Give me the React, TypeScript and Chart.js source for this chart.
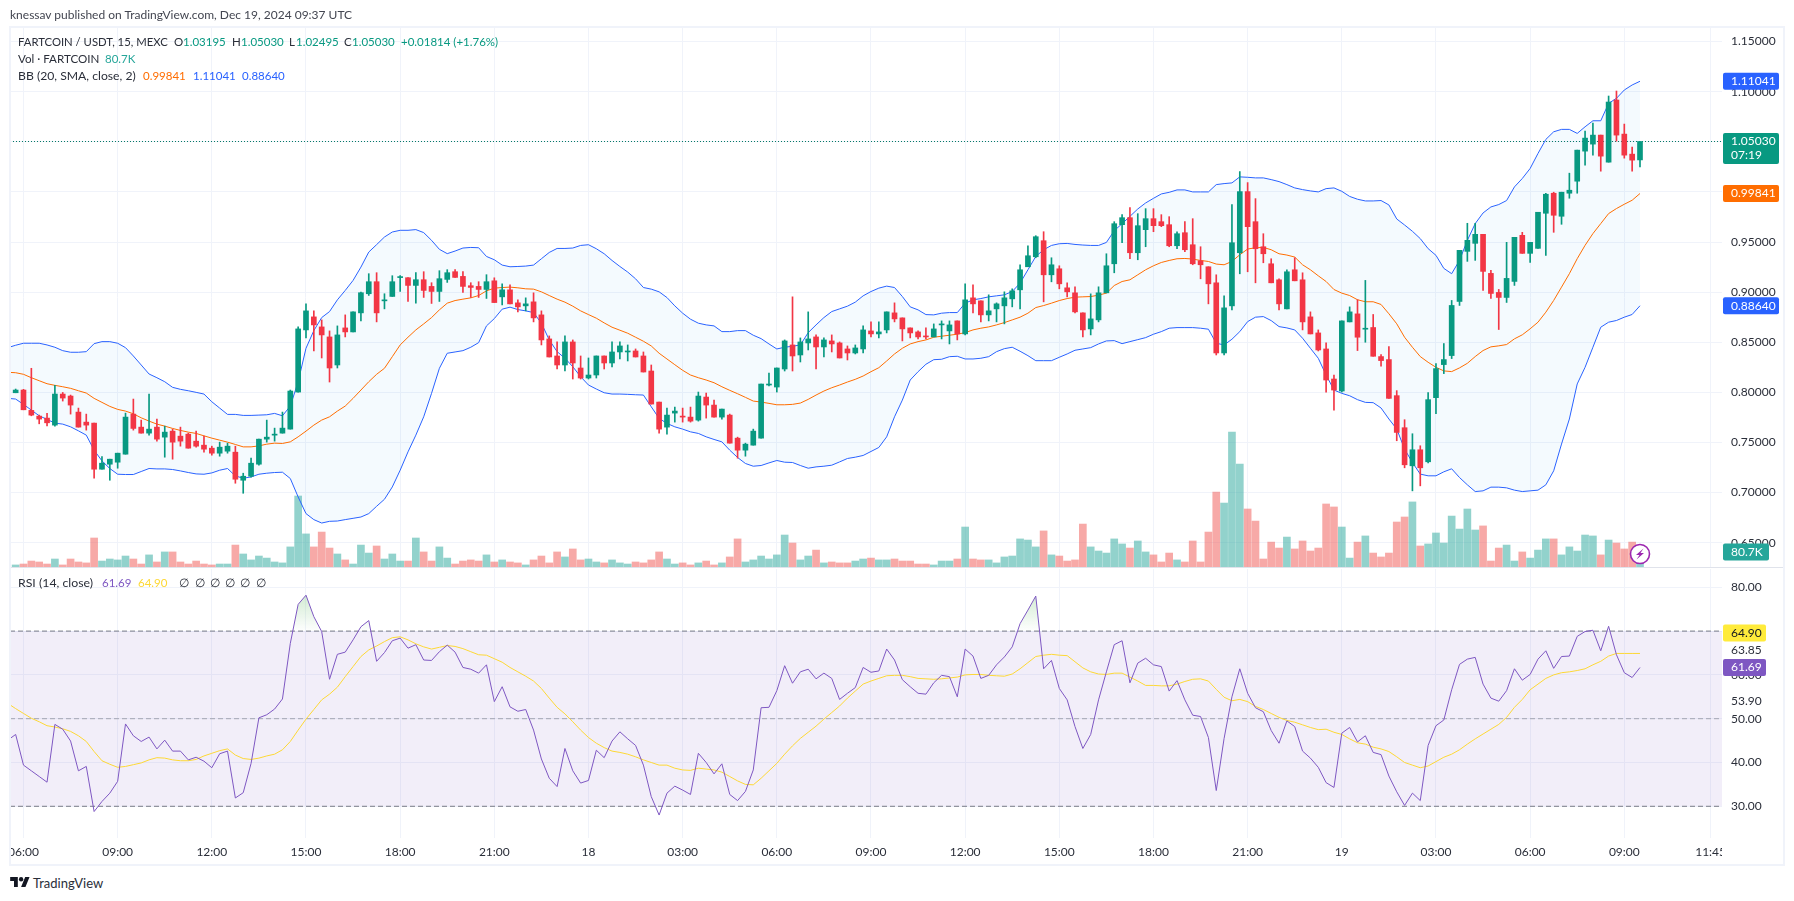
import React, { useEffect, useRef } from "react";
import { Chart, registerables } from "chart.js";

Chart.register(...registerables);

// Bars are numbered from the 06:00 bar of Dec 17 (= 0), one bar per 15 minutes.
const candleStart = -1;
const lineStart = -2;

const opens = [.7996,.8023,.7820,.7763,.7743,.7673,.7983,.7963,.7803,.7703,.7693,.7233,.7283,.7303,.7383,.7783,.7653,.7593,.7653,.7553,.7613,.7563,.7583,.7513,.7473,.7443,.7393,.7413,.7403,.7123,.7163,.7283,.7533,.7573,.7593,.7633,.8003,.8623,.8753,.8653,.8553,.8273,.8643,.8603,.8793,.8984,.9104,.8913,.8957,.9145,.9144,.9067,.9124,.9057,.9007,.9127,.9204,.9157,.9064,.9057,.9027,.9113,.8953,.9023,.8893,.8863,.8903,.8773,.8533,.8363,.8273,.8503,.8243,.8143,.8173,.8363,.8293,.8403,.8403,.8413,.8363,.8213,.7903,.7653,.7793,.7763,.7753,.7723,.7953,.7873,.7753,.7773,.7543,.7423,.7473,.7543,.8073,.8053,.8233,.8473,.8373,.8493,.8553,.8453,.8513,.8493,.8433,.8393,.8433,.8613,.8583,.8623,.8793,.8743,.8643,.8603,.8563,.8553,.8673,.8613,.8713,.8583,.8943,.8913,.8773,.8833,.8863,.8933,.9023,.9253,.9353,.9513,.9173,.9233,.9043,.8993,.8793,.8633,.8723,.8993,.9283,.9673,.9743,.9393,.9623,.9733,.9703,.9673,.9463,.9593,.9473,.9313,.9253,.9093,.8393,.8863,.9393,1.0003,.9703,.9453,.9283,.9123,.8833,.9223,.9123,.8753,.8593,.8433,.8133,.8013,.8703,.8783,.8630,.8647,.8357,.8327,.7967,.7647,.7267,.7427,.7307,.7947,.8277,.8367,.8907,.9407,.9487,.9577,.9187,.8997,.8947,.9107,.9567,.9387,.9437,.9787,.9987,.9757,.9987,1.0107,1.0407,1.0477,1.0567,1.0297,1.0917,1.0577,1.0377,1.03195];
const closes = [.8023,.7826,.7773,.7733,.7696,.7983,.7943,.7873,.7653,.7673,.7233,.7293,.7333,.7393,.7753,.7640,.7593,.7633,.7533,.7603,.7503,.7513,.7443,.7463,.7433,.7393,.7453,.7463,.7133,.7163,.7293,.7533,.7553,.7583,.7643,.8013,.8633,.8813,.8673,.8573,.8243,.8573,.8603,.8803,.8994,.9104,.8793,.8923,.9104,.9150,.9067,.9124,.9017,.9007,.9134,.9194,.9147,.9057,.9047,.9027,.9104,.8896,.9023,.8883,.8853,.8883,.8743,.8523,.8353,.8273,.8503,.8293,.8143,.8173,.8363,.8293,.8403,.8463,.8413,.8353,.8203,.7883,.7633,.7773,.7813,.7753,.7713,.7963,.7873,.7753,.7833,.7493,.7423,.7483,.7613,.8083,.8083,.8243,.8513,.8363,.8503,.8533,.8453,.8523,.8483,.8343,.8393,.8443,.8623,.8583,.8603,.8803,.8733,.8633,.8593,.8553,.8553,.8633,.8683,.8673,.8583,.8923,.8883,.8773,.8813,.8883,.8943,.9013,.9223,.9363,.9553,.9173,.9273,.9083,.9003,.8803,.8623,.8733,.8993,.9263,.9683,.9743,.9393,.9663,.9733,.9663,.9663,.9463,.9583,.9423,.9283,.9273,.9083,.8393,.8843,.9493,1.0003,.9653,.9433,.9383,.9093,.8883,.9203,.9113,.8703,.8583,.8423,.8123,.8023,.8713,.8803,.8550,.8637,.8360,.8317,.7940,.7600,.7277,.7427,.7247,.7927,.8237,.8327,.8867,.9417,.9517,.9577,.9207,.8987,.8947,.9137,.9547,.9387,.9497,.9797,.9977,.9767,.9997,1.0017,1.0417,1.0537,1.0567,1.0357,1.0897,1.0567,1.0367,1.0317,1.0503];
const highs = [.8033,.8030,.8240,.7773,.7790,.8070,.7999,.7973,.7843,.7783,.7693,.7360,.7333,.7393,.7793,.7933,.7723,.7983,.7733,.7663,.7633,.7653,.7593,.7613,.7563,.7463,.7503,.7493,.7463,.7193,.7343,.7533,.7723,.7643,.7803,.8023,.8653,.8883,.8813,.8723,.8613,.8663,.8773,.8803,.9000,.9184,.9194,.8984,.9164,.9164,.9144,.9194,.9204,.9094,.9214,.9224,.9224,.9204,.9094,.9104,.9174,.9143,.9083,.9073,.8923,.8943,.8993,.8813,.8563,.8503,.8563,.8523,.8363,.8343,.8363,.8363,.8503,.8503,.8473,.8433,.8403,.8273,.7903,.7843,.7853,.7843,.7853,.8003,.7993,.7923,.7833,.7783,.7553,.7493,.7633,.8083,.8193,.8243,.8523,.8953,.8543,.8803,.8573,.8543,.8573,.8503,.8463,.8473,.8663,.8703,.8703,.8803,.8893,.8743,.8643,.8613,.8643,.8683,.8713,.8713,.8713,.9083,.9073,.8913,.8973,.8893,.9003,.9033,.9273,.9463,.9563,.9603,.9343,.9263,.9093,.9053,.8793,.8983,.9053,.9383,.9703,.9773,.9843,.9783,.9833,.9833,.9773,.9753,.9603,.9703,.9733,.9453,.9253,.9173,.8963,.9873,1.0203,1.0093,.9933,.9583,.9333,.9133,.9223,.9343,.9193,.8803,.8623,.8493,.8173,.8713,.8853,.8924,.9117,.8777,.8377,.8457,.8017,.7727,.7587,.7467,.7997,.8287,.8487,.8917,.9417,.9687,.9687,.9577,.9217,.9027,.9497,.9547,.9597,.9497,.9797,.9987,.9997,.9997,1.0187,1.0417,1.0607,1.0687,1.0567,1.0957,1.1007,1.0677,1.0447,1.0503];
const lows = [.7996,.7826,.7766,.7686,.7666,.7663,.7913,.7783,.7653,.7623,.7143,.7233,.7123,.7243,.7383,.7623,.7593,.7573,.7513,.7353,.7333,.7463,.7443,.7453,.7403,.7373,.7363,.7393,.7093,.6993,.7153,.7273,.7503,.7513,.7593,.7633,.8003,.8543,.8413,.8343,.8103,.8243,.8553,.8603,.8713,.8967,.8703,.8833,.8957,.9007,.8908,.8890,.8947,.8887,.8907,.9097,.9147,.8997,.8947,.8947,.8937,.8896,.8873,.8883,.8803,.8813,.8703,.8473,.8353,.8233,.8213,.8133,.8133,.8133,.8143,.8233,.8253,.8333,.8313,.8353,.8203,.7883,.7593,.7583,.7703,.7703,.7703,.7713,.7743,.7753,.7733,.7493,.7343,.7363,.7473,.7543,.8063,.8003,.8213,.8213,.8303,.8423,.8233,.8353,.8403,.8343,.8323,.8383,.8393,.8553,.8543,.8593,.8703,.8513,.8543,.8533,.8533,.8553,.8533,.8483,.8523,.8573,.8793,.8703,.8713,.8703,.8683,.8853,.8833,.9253,.9343,.8903,.9103,.9033,.8953,.8793,.8553,.8573,.8703,.8993,.9193,.9493,.9333,.9323,.9453,.9603,.9653,.9453,.9433,.9403,.9273,.9133,.8883,.8373,.8373,.8823,.9183,.9203,.9093,.9293,.9093,.8823,.8833,.9113,.8623,.8583,.8413,.8003,.7823,.8003,.8703,.8417,.8500,.8360,.8260,.7940,.7517,.7247,.7017,.7067,.7297,.7787,.8187,.8337,.8867,.9307,.9317,.9017,.8937,.8627,.8897,.9067,.9387,.9297,.9437,.9367,.9597,.9677,.9937,.9987,1.0267,1.0367,1.0207,1.0297,1.0507,1.0337,1.0207,1.02495];
const volumesK = [11,16,32,27,16,43,11,43,27,22,156,32,43,38,59,43,16,65,27,81,81,27,16,32,16,11,16,16,118,70,38,59,48,27,22,108,382,178,108,188,102,70,38,16,118,75,113,43,70,32,32,156,81,32,108,48,16,32,38,32,65,27,38,27,22,11,38,59,22,81,54,97,38,43,27,22,38,22,16,27,22,38,81,43,16,22,11,22,32,11,22,54,151,27,38,59,43,65,172,129,38,59,91,22,27,22,22,32,43,48,38,38,43,32,32,16,16,11,32,32,43,215,43,38,38,22,54,59,151,145,108,194,65,59,32,38,231,108,86,75,151,124,102,140,81,65,27,75,38,27,140,27,188,403,344,726,554,312,247,43,134,102,161,97,140,86,102,339,323,215,48,134,167,75,54,75,242,269,350,113,124,183,129,274,204,312,199,221,32,102,118,32,81,48,91,151,151,65,108,86,172,167,65,145,129,97,134,80.7];

const bbUpper = [.8446,.8470,.8490,.8490,.8490,.8473,.8450,.8416,.8400,.8400,.8406,.8486,.8506,.8506,.8490,.8446,.8363,.8273,.8183,.8146,.8106,.8050,.8030,.8016,.8000,.7983,.7906,.7843,.7780,.7780,.7770,.7770,.7773,.7776,.7790,.7766,.7863,.8106,.8440,.8616,.8746,.8806,.8923,.9017,.9117,.9250,.9400,.9474,.9550,.9600,.9617,.9617,.9624,.9594,.9517,.9427,.9384,.9410,.9440,.9446,.9443,.9356,.9323,.9270,.9253,.9256,.9260,.9270,.9333,.9396,.9436,.9436,.9440,.9466,.9473,.9433,.9383,.9316,.9256,.9200,.9133,.9046,.9030,.9003,.8946,.8863,.8790,.8730,.8690,.8673,.8663,.8606,.8606,.8616,.8616,.8570,.8536,.8483,.8433,.8450,.8460,.8473,.8596,.8673,.8746,.8806,.8833,.8860,.8900,.8963,.9006,.9040,.9060,.9046,.8956,.8853,.8823,.8776,.8773,.8790,.8796,.8796,.8890,.8923,.8936,.8953,.8963,.8973,.9006,.9090,.9223,.9356,.9423,.9466,.9483,.9486,.9476,.9470,.9466,.9466,.9496,.9613,.9683,.9756,.9830,.9890,.9936,.9980,.9996,1.0020,1.0020,1.0000,1.0000,1.0000,1.0073,1.0083,1.0090,1.0150,1.0146,1.0140,1.0140,1.0123,1.0103,1.0073,1.0040,1.0023,1.0010,1.0000,1.0033,1.0040,1.0006,.9955,.9927,.9910,.9910,.9914,.9870,.9730,.9670,.9607,.9534,.9434,.9367,.9237,.9184,.9317,.9517,.9684,.9790,.9850,.9874,.9914,1.0050,1.0134,1.0234,1.0384,1.0524,1.0600,1.0624,1.0624,1.0584,1.0650,1.0710,1.0710,1.0884,1.0934,1.1017,1.1067,1.11041];
const bbMiddle = [.8200,.8196,.8180,.8146,.8116,.8086,.8070,.8056,.8040,.8016,.7993,.7940,.7900,.7860,.7830,.7813,.7786,.7746,.7713,.7683,.7663,.7640,.7620,.7603,.7590,.7566,.7543,.7523,.7503,.7480,.7456,.7456,.7466,.7483,.7493,.7490,.7506,.7556,.7613,.7673,.7723,.7756,.7813,.7863,.7940,.8023,.8106,.8180,.8240,.8356,.8473,.8550,.8623,.8683,.8746,.8823,.8890,.8916,.8930,.8943,.8966,.9013,.9040,.9046,.9050,.9043,.9033,.9030,.9003,.8966,.8930,.8900,.8860,.8813,.8776,.8740,.8693,.8650,.8620,.8590,.8550,.8510,.8463,.8390,.8333,.8276,.8220,.8173,.8146,.8123,.8096,.8056,.8020,.7986,.7950,.7913,.7903,.7890,.7876,.7876,.7880,.7893,.7930,.7973,.8013,.8046,.8073,.8103,.8130,.8163,.8206,.8246,.8313,.8383,.8440,.8483,.8506,.8523,.8550,.8560,.8570,.8580,.8596,.8623,.8640,.8653,.8673,.8696,.8723,.8750,.8790,.8846,.8866,.8890,.8916,.8936,.8950,.8953,.8956,.8970,.8990,.9066,.9106,.9123,.9173,.9223,.9263,.9296,.9316,.9333,.9336,.9330,.9316,.9306,.9280,.9273,.9306,.9373,.9430,.9443,.9446,.9423,.9383,.9370,.9350,.9273,.9223,.9163,.9106,.9026,.8990,.8966,.8924,.8904,.8904,.8877,.8784,.8684,.8550,.8450,.8357,.8300,.8250,.8214,.8207,.8244,.8290,.8357,.8417,.8454,.8464,.8477,.8534,.8574,.8634,.8700,.8800,.8917,.9050,.9184,.9334,.9467,.9584,.9684,.9784,.9834,.9877,.9917,.99841];
const bbLower = [.7940,.7933,.7880,.7823,.7766,.7730,.7693,.7683,.7656,.7616,.7573,.7423,.7316,.7240,.7183,.7180,.7180,.7210,.7240,.7236,.7236,.7230,.7216,.7200,.7186,.7183,.7196,.7223,.7240,.7166,.7143,.7156,.7183,.7193,.7200,.7203,.7140,.6956,.6790,.6730,.6696,.6713,.6716,.6730,.6743,.6756,.6790,.6863,.6933,.7056,.7223,.7406,.7573,.7756,.7990,.8240,.8390,.8403,.8416,.8450,.8496,.8663,.8736,.8830,.8850,.8826,.8813,.8796,.8690,.8523,.8406,.8340,.8256,.8156,.8073,.8033,.7996,.7983,.7983,.7980,.7976,.7973,.7856,.7740,.7690,.7656,.7633,.7606,.7590,.7556,.7530,.7506,.7423,.7350,.7290,.7263,.7270,.7296,.7320,.7303,.7300,.7270,.7243,.7256,.7263,.7273,.7306,.7340,.7353,.7370,.7410,.7450,.7556,.7756,.7923,.8123,.8206,.8280,.8326,.8330,.8356,.8360,.8333,.8333,.8340,.8356,.8406,.8436,.8450,.8410,.8366,.8316,.8316,.8316,.8350,.8383,.8420,.8433,.8446,.8483,.8513,.8516,.8486,.8506,.8526,.8546,.8580,.8606,.8640,.8646,.8646,.8646,.8640,.8630,.8490,.8473,.8530,.8606,.8706,.8750,.8756,.8716,.8656,.8643,.8623,.8540,.8440,.8340,.8173,.8023,.7990,.7966,.7927,.7900,.7897,.7844,.7734,.7634,.7434,.7300,.7184,.7167,.7167,.7207,.7237,.7150,.7077,.7010,.7017,.7054,.7054,.7047,.7024,.7010,.7017,.7024,.7077,.7217,.7484,.7734,.8084,.8250,.8450,.8650,.8700,.8717,.8750,.8777,.8864];

const rsiValues = [45.1,46.4,39.4,38.1,36.8,35.5,48.7,47.6,44.9,38.1,39.1,28.8,31.1,33.0,35.7,48.8,46.1,44.8,45.8,43.1,45.1,42.6,42.6,40.6,41.2,40.3,38.8,42.0,42.6,31.9,33.1,39.8,50.2,50.9,52.2,54.5,67.2,76.1,78.2,73.3,69.9,59.0,64.7,65.2,68.0,71.0,72.4,63.1,65.1,67.8,68.4,66.1,66.9,63.4,63.3,65.3,66.8,65.2,61.7,61.3,60.4,62.3,53.9,57.3,52.7,51.7,52.1,47.4,40.8,36.4,34.5,43.2,38.1,35.3,35.9,42.8,41.1,44.9,47.0,45.4,43.9,39.4,32.2,28.0,33.0,34.6,33.7,32.7,42.1,40.0,37.4,39.7,32.7,31.3,33.4,38.3,52.5,52.6,56.4,62.1,58.1,60.7,61.3,59.1,60.4,59.2,54.4,55.8,57.1,61.7,60.6,60.9,65.9,63.4,58.9,57.3,55.8,55.6,58.2,59.9,59.6,55.0,65.9,64.3,59.2,59.9,62.3,64.1,66.4,71.7,74.8,78.0,61.4,63.3,56.9,54.3,48.2,43.2,46.4,54.3,60.7,66.9,67.8,58.2,62.7,63.8,62.3,61.9,56.3,58.7,54.3,50.8,50.5,45.7,33.6,45.5,55.0,61.4,55.8,52.5,51.6,47.3,44.4,49.5,48.2,42.6,41.0,38.9,35.4,34.3,46.7,48.0,44.7,46.1,42.3,41.8,36.9,33.3,30.2,33.0,31.3,43.9,48.4,49.7,56.6,62.4,63.6,64.0,57.9,54.7,54.0,56.4,61.4,58.8,60.1,63.6,65.5,61.5,64.2,64.3,68.8,69.9,70.2,65.5,71.1,64.6,60.5,59.4,61.69];
const rsiMaValues = [53.5,52.3,51.2,50.1,49.3,48.4,48.1,47.7,47.1,46.1,44.8,42.5,40.4,39.6,38.9,39.1,39.5,39.9,40.6,41.1,41.0,40.6,40.4,40.4,40.7,41.5,42.1,42.7,43.1,41.7,40.9,40.7,41.0,41.5,41.9,42.9,44.8,47.4,49.9,52.1,54.3,55.6,57.2,59.6,61.9,64.2,65.7,66.6,67.6,68.5,68.7,68.0,67.1,66.4,65.9,66.3,66.7,66.5,66.0,65.3,64.6,64.5,63.7,62.9,61.7,60.7,59.7,58.6,56.9,54.7,52.6,51.1,49.3,47.4,45.7,44.4,43.4,42.6,42.3,41.9,41.3,40.6,40.0,39.4,39.4,38.7,38.3,38.2,38.7,38.5,38.3,37.8,36.8,35.8,35.0,34.9,36.4,38.1,39.8,41.9,43.8,45.5,46.9,48.3,49.9,51.4,52.9,54.7,56.3,57.9,58.6,59.2,59.8,59.9,59.9,59.6,59.2,59.1,59.0,59.1,59.3,59.5,60.0,60.1,60.1,59.9,59.8,59.7,60.2,61.4,62.8,64.2,64.5,64.7,64.5,64.4,63.0,61.6,60.7,60.2,60.1,60.4,60.4,59.5,58.6,57.6,57.6,57.5,57.5,57.9,58.5,59.0,59.1,58.6,56.7,54.9,54.1,54.4,53.9,52.8,52.1,51.2,50.3,49.6,49.2,48.6,48.0,47.5,47.6,46.9,46.4,45.4,44.5,44.2,43.5,43.1,42.5,41.3,40.0,39.4,38.8,39.2,40.2,41.2,41.9,42.9,44.2,45.4,46.5,47.6,48.7,50.3,52.6,54.4,56.6,57.9,59.2,60.0,60.5,60.7,61.0,61.4,62.3,63.1,64.3,64.9,64.9,64.9,64.90];

const timeTickBars = [0,12,24,36,48,60,72,84,96,108,120,132,144,156,168,180,192,204,215];
const timeTickLabels = ["06:00","09:00","12:00","15:00","18:00","21:00","18","03:00","06:00","09:00","12:00","15:00","18:00","21:00","19","03:00","06:00","09:00","11:45"];
const priceTicks = [0.65,0.7,0.75,0.8,0.85,0.9,0.95,1.0,1.05,1.1,1.15];
const rsiTicks = [30,40,50,60,70,80];
const lastPrice = 1.0503;

const GREEN = "#089981", RED = "#f23645", GRID = "#f0f3fa", TEXT = "#2a2e39";
const FONT = "Lato, 'Noto Sans', sans-serif";
const axisFont = { family: FONT, size: 12 };

const xMin = -1.72, xMax = 216.45;
const at = (arr: number[], start: number) => arr.map((y, i) => ({ x: i + start, y }));

function drawTag(ctx: any, x: number, top: number, w: number, h: number, bg: string, fg: string, lines: string[]) {
  ctx.save();
  ctx.fillStyle = bg;
  ctx.beginPath();
  ctx.roundRect(x, top, w, h, 2);
  ctx.fill();
  ctx.fillStyle = fg;
  ctx.font = `12px ${FONT}`;
  ctx.textBaseline = "middle";
  ctx.textAlign = "left";
  lines.forEach((t, i) => ctx.fillText(t, x + 8, top + 8.5 + i * 14));
  ctx.restore();
}

const priceTags = {
  id: "priceTags",
  afterDraw(chart: any) {
    const { ctx, scales } = chart;
    const py = (v: number) => scales.y.getPixelForValue(v);
    const X = 1723;
    drawTag(ctx, X, py(1.11041) - 8.5, 56, 17, "#2962ff", "#fff", ["1.11041"]);
    drawTag(ctx, X, py(lastPrice) - 8.5, 56, 31, GREEN, "#fff", ["1.05030", "07:19"]);
    drawTag(ctx, X, py(0.99841) - 8.5, 56, 17, "#ff6d00", "#fff", ["0.99841"]);
    drawTag(ctx, X, py(0.8864) - 8.5, 56, 17, "#2962ff", "#fff", ["0.88640"]);
    const lastVol = volumesK[volumesK.length - 1];
    const vy = scales.v.getPixelForValue(lastVol);
    drawTag(ctx, X, vy - 8.5, 46, 17, "#26a69a", "#fff", ["80.7K"]);
    // flash icon on top of the last volume bar
    const cx = scales.x.getPixelForValue(206), cy = vy + 2;
    ctx.save();
    ctx.beginPath();
    ctx.arc(cx, cy, 9.5, 0, Math.PI * 2);
    ctx.fillStyle = "#fff";
    ctx.fill();
    ctx.lineWidth = 1.6;
    ctx.strokeStyle = "#9c27b0";
    ctx.stroke();
    ctx.beginPath();
    ctx.moveTo(cx + 3.5, cy - 5.5);
    ctx.lineTo(cx - 4, cy + 1);
    ctx.lineTo(cx - 0.5, cy + 1);
    ctx.lineTo(cx - 3.5, cy + 5.5);
    ctx.lineTo(cx + 4, cy - 1);
    ctx.lineTo(cx + 0.5, cy - 1);
    ctx.closePath();
    ctx.fillStyle = "#9c27b0";
    ctx.fill();
    ctx.restore();
  },
};

const rsiTags = {
  id: "rsiTags",
  afterDraw(chart: any) {
    const { ctx, scales } = chart;
    const py = (v: number) => scales.y.getPixelForValue(v);
    const X = 1723;
    // mask the clipped tail of the time labels
    ctx.fillStyle = "#fff";
    ctx.fillRect(1722, chart.chartArea.bottom, 61, 28);
    ctx.fillRect(0, chart.chartArea.bottom, 10, 28);
    ctx.fillStyle = TEXT;
    ctx.font = `12px ${FONT}`;
    ctx.textBaseline = "middle";
    ctx.fillText("63.85", 1731, py(63.85) - 8);
    ctx.fillText("53.90", 1731, py(53.9));
    // the yellow tag is pushed up off its value by the neighbouring labels, as in the source
    drawTag(ctx, X, py(70) - 6.5, 43, 17, "#ffeb3b", "#131722", ["64.90"]);
    drawTag(ctx, X, py(61.69) - 8.5, 43, 17, "#7e57c2", "#fff", ["61.69"]);
  },
};

type Piece = { x: number; c?: string; t: string; s?: number };
const gray = "#2a2e39";
const up = "#089981";
const legendRows: { y: number; items: Piece[] }[] = [
  { y: 41.5, items: [
    { x: 18, t: "FARTCOIN / USDT, 15, MEXC", s: 11.3 }, { x: 174, t: "O" }, { x: 183, c: up, t: "1.03195" },
    { x: 232, t: "H" }, { x: 241, c: up, t: "1.05030" }, { x: 289, t: "L" }, { x: 296, c: up, t: "1.02495" },
    { x: 344, t: "C" }, { x: 352, c: up, t: "1.05030" }, { x: 401, c: up, t: "+0.01814 (+1.76%)" },
  ]},
  { y: 58.5, items: [{ x: 18, t: "Vol · FARTCOIN", s: 11.6 }, { x: 105, c: "#26a69a", t: "80.7K" }] },
  { y: 75.5, items: [
    { x: 18, t: "BB (20, SMA, close, 2)", s: 12.2 }, { x: 143, c: "#ff6d00", t: "0.99841" },
    { x: 193, c: "#2962ff", t: "1.11041" }, { x: 242, c: "#2962ff", t: "0.88640" },
  ]},
  { y: 583, items: [
    { x: 18, t: "RSI (14, close)", s: 12.3 }, { x: 102, c: "#7e57c2", t: "61.69" }, { x: 138, c: "#fdd835", t: "64.90" },
    { x: 179, t: "∅" }, { x: 195, t: "∅" }, { x: 210, t: "∅" }, { x: 225, t: "∅" }, { x: 240, t: "∅" }, { x: 256, t: "∅" },
  ]},
];

const lineDs = (data: any[], color: string, order: number, extra: any = {}) => ({
  type: "line", data, borderColor: color, borderWidth: 1, pointRadius: 0, tension: 0, order, ...extra,
});

const noPad = (s: any) => { s.paddingTop = 0; s.paddingBottom = 0; s.paddingLeft = 0; s.paddingRight = 0; };

export default function App() {
  const topRef = useRef<HTMLCanvasElement>(null);
  const botRef = useRef<HTMLCanvasElement>(null);

  useEffect(() => {
    document.body.style.margin = "0";
    document.body.style.overflow = "hidden";

    const isUp = opens.map((o, i) => closes[i] >= o);
    const candleColors = isUp.map((u) => (u ? GREEN : RED));
    const volColors = isUp.map((u) => (u ? "rgba(38,166,154,0.5)" : "rgba(239,83,80,0.5)"));
    const barCommon = { type: "bar", grouped: false, borderWidth: 0, borderSkipped: false, backgroundColor: candleColors };

    const timeAxis = (showLabels: boolean) => ({
      type: "linear", min: xMin, max: xMax, offset: false,
      afterBuildTicks: (s: any) => { s.ticks = timeTickBars.map((value) => ({ value })); },
      afterFit: (s: any) => { s.height = showLabels ? 28 : 0; noPad(s); },
      grid: { color: GRID, drawTicks: false, offset: false },
      border: { display: false },
      ticks: {
        display: showLabels, autoSkip: false, maxRotation: 0, padding: 7, color: TEXT, font: axisFont,
        callback: (v: number) => timeTickLabels[timeTickBars.indexOf(v)] ?? "",
      },
    });

    const top = new Chart(topRef.current as any, {
      type: "line",
      data: {
        datasets: [
          { type: "bar", grouped: false, yAxisID: "v", barThickness: 7, borderWidth: 0, backgroundColor: volColors,
            data: at(volumesK, candleStart), order: 9 },
          lineDs(at(bbUpper, lineStart), "#2962ff", 6, { fill: { target: "+2" }, backgroundColor: "rgba(33,150,243,0.05)" }),
          lineDs(at(bbMiddle, lineStart), "#ff6d00", 5),
          lineDs(at(bbLower, lineStart), "#2962ff", 4),
          lineDs([{ x: xMin, y: lastPrice }, { x: xMax, y: lastPrice }], "#067a67", 3, { borderDash: [1, 2] }),
          { ...barCommon, barThickness: 1, order: 2, data: opens.map((_, i) => ({ x: i + candleStart, y: [lows[i], highs[i]] })) },
          { ...barCommon, barThickness: 5, minBarLength: 1, order: 1, data: opens.map((o, i) => ({ x: i + candleStart, y: [o, closes[i]] })) },
        ] as any,
      },
      options: {
        responsive: false, animation: false, devicePixelRatio: 1, events: [],
        layout: { padding: { left: 10, top: 27, right: 0, bottom: 0 } },
        plugins: { legend: { display: false }, tooltip: { enabled: false } },
        scales: {
          x: timeAxis(false),
          y: {
            position: "right", min: 0.62472, max: 1.16457,
            afterBuildTicks: (s: any) => { s.ticks = priceTicks.map((value) => ({ value })); },
            afterFit: (s: any) => { s.width = 72; noPad(s); },
            grid: { color: GRID, drawTicks: false },
            border: { display: false },
            ticks: { padding: 9, color: TEXT, font: axisFont, callback: (v: number) => v.toFixed(5) },
          },
          v: { display: false, position: "left", min: -5.38, max: 2905, afterFit: noPad },
        },
      } as any,
      plugins: [priceTags],
    });

    const ctx2 = (botRef.current as any).getContext("2d");
    const excess = ctx2.createLinearGradient(0, 19, 0, 64);
    excess.addColorStop(0, "rgba(76,175,80,0.3)");
    excess.addColorStop(1, "rgba(76,175,80,0)");

    const bot = new Chart(botRef.current as any, {
      type: "line",
      data: {
        datasets: [
          lineDs([{ x: xMin, y: 70 }, { x: xMax, y: 70 }], "#787b86", 8, {
            borderDash: [5, 3], fill: { target: { value: 30 } }, backgroundColor: "rgba(126,87,194,0.1)" }),
          lineDs([{ x: xMin, y: 50 }, { x: xMax, y: 50 }], "rgba(120,123,134,0.6)", 7, { borderDash: [5, 3] }),
          lineDs([{ x: xMin, y: 30 }, { x: xMax, y: 30 }], "#787b86", 6, { borderDash: [5, 3] }),
          lineDs(at(rsiMaValues, lineStart), "#fdd835", 4),
          lineDs(at(rsiValues, lineStart), "#7e57c2", 3, {
            fill: { target: { value: 70 }, above: excess, below: "rgba(0,0,0,0)" } }),
        ] as any,
      },
      options: {
        responsive: false, animation: false, devicePixelRatio: 1, events: [],
        layout: { padding: { left: 10, top: 1, right: 0, bottom: 0 } },
        plugins: { legend: { display: false }, tooltip: { enabled: false } },
        scales: {
          x: timeAxis(true),
          y: {
            position: "right", min: 22.76, max: 84.18,
            afterBuildTicks: (s: any) => { s.ticks = rsiTicks.map((value) => ({ value })); },
            afterFit: (s: any) => { s.width = 72; noPad(s); },
            grid: { color: GRID, drawTicks: false },
            border: { display: false },
            ticks: { padding: 9, color: TEXT, font: axisFont, callback: (v: number) => v.toFixed(2) },
          },
        },
      } as any,
      plugins: [rsiTags],
    });

    return () => { top.destroy(); bot.destroy(); };
  }, []);

  const text = (x: number, y: number, t: string, c = gray, size = 11.5) => (
    <span key={`${x}-${y}`} style={{
      position: "absolute", left: x, top: y - 9, lineHeight: "18px", height: 18, color: c,
      fontFamily: FONT, fontSize: size, whiteSpace: "pre",
    }}>{t}</span>
  );

  return (
    <div style={{ position: "fixed", left: 0, top: 0, width: 1794, height: 901, background: "#fff", overflow: "hidden" }}>
      <canvas ref={topRef} width={1794} height={568} style={{ position: "absolute", left: 0, top: 0, display: "block" }} />
      <canvas ref={botRef} width={1794} height={298} style={{ position: "absolute", left: 0, top: 568, display: "block" }} />
      <div style={{ position: "absolute", left: 10, top: 567, width: 1774, height: 1, background: "#e0e3eb" }} />
      <div style={{ position: "absolute", left: 9, top: 26, width: 1776, height: 840, border: `2px solid ${GRID}`, boxSizing: "border-box" }} />
      {text(10, 15, "knessav published on TradingView.com, Dec 19, 2024 09:37 UTC", "#434651", 12)}
      {legendRows.flatMap((r) => r.items.map((p) => text(p.x, r.y, p.t, p.c ?? gray, p.s)))}
      <svg style={{ position: "absolute", left: 10, top: 876 }} width="20" height="12" viewBox="0 2 36 22">
        <path d="M14 22H7V11H0V4h14v18zM28 22h-8l7.5-18h8L28 22z" fill="#131722" />
        <circle cx="20" cy="8" r="4" fill="#131722" />
      </svg>
      {text(33, 883, "TradingView", "#2a2e39", 13)}
    </div>
  );
}
